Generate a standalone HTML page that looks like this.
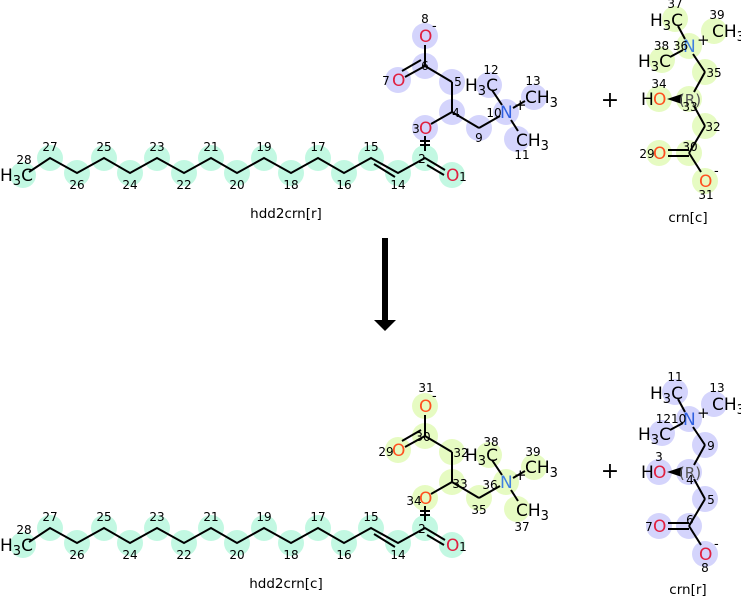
<!DOCTYPE html>
<html><head><meta charset="utf-8"><style>
body{margin:0;background:#fff}
svg{display:block}
text{font-family:"DejaVu Sans","Liberation Sans",sans-serif}
.a{font-size:17px}
.n{font-size:12px;fill:#000}
.b{stroke:#000;stroke-width:2;fill:none}
circle{r:13px}
</style></head><body>
<svg width="741" height="598" viewBox="0 0 741 598" xmlns="http://www.w3.org/2000/svg">
<defs>
<g id="chain">
  <g fill="#c2f8e2">
    <circle cx="23" cy="175" r="13"/><circle cx="50" cy="158" r="13"/><circle cx="77" cy="173" r="13"/><circle cx="104" cy="158" r="13"/><circle cx="130" cy="173" r="13"/><circle cx="157" cy="158" r="13"/><circle cx="184" cy="173" r="13"/><circle cx="211" cy="158" r="13"/><circle cx="237" cy="173" r="13"/><circle cx="264" cy="158" r="13"/><circle cx="291" cy="173" r="13"/><circle cx="318" cy="158" r="13"/><circle cx="344" cy="173" r="13"/><circle cx="371" cy="158" r="13"/><circle cx="398" cy="173" r="13"/><circle cx="425" cy="158" r="13"/><circle cx="452" cy="175" r="13"/>
  </g>
  <polyline class="b" points="29,172 50,158 77,173 104,158 130,173 157,158 184,173 211,158 237,173 264,158 291,173 318,158 344,173 371,158 398,173 425,158 445,170"/>
  <line class="b" x1="374" y1="164" x2="395" y2="177"/>
  <line class="b" x1="427" y1="165" x2="444" y2="175"/>
  <text class="a" x="0" y="181">H<tspan font-size="13" dy="4">3</tspan><tspan dy="-4">C</tspan></text>
  <text class="a" x="446" y="181" fill="#e02040">O</text>
  <g class="n" text-anchor="middle">
    <text x="24" y="164">28</text><text x="50" y="151">27</text><text x="77" y="189">26</text><text x="104" y="151">25</text><text x="130" y="189">24</text><text x="157" y="151">23</text><text x="184" y="189">22</text><text x="211" y="151">21</text><text x="237" y="189">20</text><text x="264" y="151">19</text><text x="291" y="189">18</text><text x="318" y="151">17</text><text x="344" y="189">16</text><text x="371" y="151">15</text><text x="398" y="189">14</text><text x="422" y="163">2</text><text x="463" y="181">1</text>
  </g>
  <line class="b" x1="425" y1="151" x2="425" y2="136"/>
  <line class="b" x1="420" y1="141" x2="430" y2="141"/><line class="b" x1="420" y1="145" x2="430" y2="145"/>
</g>
<g id="side">
  <line class="b" x1="431" y1="124" x2="452" y2="112"/>
  <line class="b" x1="452" y1="112" x2="452" y2="82"/>
  <line class="b" x1="452" y1="82" x2="425" y2="66"/>
  <line class="b" x1="425" y1="66" x2="425" y2="45"/>
  <line class="b" x1="425" y1="66" x2="405" y2="77"/>
  <line class="b" x1="421" y1="60" x2="402" y2="71"/>
  <line class="b" x1="452" y1="112" x2="479" y2="128"/>
  <line class="b" x1="479" y1="128" x2="500" y2="116"/>
  <line class="b" x1="502" y1="105" x2="492" y2="90"/>
  <line class="b" x1="513" y1="108" x2="525" y2="101"/>
  <line class="b" x1="511" y1="120" x2="518" y2="131"/>
</g>
<g id="crn">
  <line class="b" x1="685" y1="39" x2="678" y2="26"/>
  <line class="b" x1="683" y1="50" x2="670" y2="57"/>
  <line class="b" x1="693" y1="54" x2="705" y2="72"/>
  <line class="b" x1="705" y1="72" x2="694" y2="92"/>
  <line class="b" x1="694" y1="106" x2="705" y2="126"/>
  <line class="b" x1="705" y1="126" x2="689" y2="153"/>
  <line class="b" x1="689" y1="153" x2="701" y2="172"/>
  <line class="b" x1="668" y1="150" x2="689" y2="150"/>
  <line class="b" x1="668" y1="156" x2="689" y2="156"/>
  <polygon points="667,99 682,94 682,104" fill="#000"/>
  <text x="690" y="105" fill="#555" text-anchor="middle" style="font-size:15px">(R)</text>
  <text class="a" x="641" y="105">H</text>
</g>
</defs>

<!-- TOP LEFT -->
<g>
  <g fill="#d4d4fc">
    <circle cx="425" cy="36" r="13"/><circle cx="425" cy="66" r="13"/><circle cx="398" cy="80" r="13"/><circle cx="452" cy="82" r="13"/><circle cx="452" cy="112" r="13"/><circle cx="425" cy="128" r="13"/><circle cx="479" cy="128" r="13"/><circle cx="506" cy="112" r="13"/><circle cx="489" cy="85" r="13"/><circle cx="534" cy="97" r="13"/><circle cx="517" cy="139" r="13"/>
  </g>
  <use href="#chain"/>
  <use href="#side"/>
  <g class="a">
    <text x="419" y="42" fill="#e02040">O</text><text x="392" y="86" fill="#e02040">O</text><text x="419" y="134" fill="#e02040">O</text>
    <text x="500" y="118" fill="#3060e0">N</text>
    <text x="465" y="91">H<tspan font-size="13" dy="4">3</tspan><tspan dy="-4">C</tspan></text>
    <text x="525" y="103">CH<tspan font-size="13" dy="4">3</tspan></text>
    <text x="516" y="146">CH<tspan font-size="13" dy="4">3</tspan></text>
    <text x="432" y="30" font-size="13">-</text><text x="514" y="110" font-size="15">+</text>
  </g>
  <g class="n" text-anchor="middle">
    <text x="425" y="23">8</text><text x="425" y="70">6</text><text x="386" y="85">7</text><text x="458" y="86">5</text><text x="456" y="117">4</text><text x="416" y="133">3</text><text x="479" y="142">9</text><text x="494" y="117">10</text><text x="491" y="74">12</text><text x="533" y="85">13</text><text x="522" y="159">11</text>
  </g>
  <text x="286" y="218" font-size="13.5" text-anchor="middle">hdd2crn[r]</text>
</g>

<!-- TOP RIGHT -->
<g>
  <g fill="#e6fbc2">
    <circle cx="675" cy="19" r="13"/><circle cx="714" cy="31" r="13"/><circle cx="689" cy="46" r="13"/><circle cx="662" cy="60" r="13"/><circle cx="705" cy="72" r="13"/><circle cx="689" cy="99" r="13"/><circle cx="659" cy="99" r="13"/><circle cx="705" cy="126" r="13"/><circle cx="689" cy="153" r="13"/><circle cx="659" cy="153" r="13"/><circle cx="705" cy="181" r="13"/>
  </g>
  <use href="#crn"/>
  <g class="a">
    <text x="650" y="26">H<tspan font-size="13" dy="4">3</tspan><tspan dy="-4">C</tspan></text>
    <text x="712" y="37">CH<tspan font-size="13" dy="4">3</tspan></text>
    <text x="638" y="67">H<tspan font-size="13" dy="4">3</tspan><tspan dy="-4">C</tspan></text>
    <text x="683" y="52" fill="#4080e0">N</text><text x="697" y="45" font-size="15">+</text>
    <text x="653" y="105" fill="#ff5020">O</text>
    <text x="653" y="159" fill="#ff5020">O</text>
    <text x="699" y="187" fill="#ff5020">O</text><text x="714" y="175" font-size="13">-</text>
  </g>
  <g class="n" text-anchor="middle">
    <text x="675" y="8">37</text><text x="717" y="19">39</text><text x="671" y="50">38 36</text><text x="659" y="88">34</text><text x="714" y="77">35</text><text x="690" y="111">33</text><text x="713" y="131">32</text><text x="690" y="151">30</text><text x="647" y="158">29</text><text x="706" y="199">31</text>
  </g>
  <text x="688" y="222" font-size="13.5" text-anchor="middle">crn[c]</text>
</g>
<text x="610" y="107" font-size="22" text-anchor="middle">+</text>

<!-- ARROW -->
<rect x="382" y="238" width="6" height="84" fill="#000"/>
<polygon points="374,320 396,320 385,331" fill="#000"/>

<!-- BOTTOM LEFT -->
<g transform="translate(0,370)">
  <g fill="#e6fbc2">
    <circle cx="425" cy="36" r="13"/><circle cx="425" cy="66" r="13"/><circle cx="398" cy="80" r="13"/><circle cx="452" cy="82" r="13"/><circle cx="452" cy="112" r="13"/><circle cx="425" cy="128" r="13"/><circle cx="479" cy="128" r="13"/><circle cx="506" cy="112" r="13"/><circle cx="489" cy="85" r="13"/><circle cx="534" cy="97" r="13"/><circle cx="517" cy="139" r="13"/>
  </g>
  <use href="#chain"/>
  <use href="#side"/>
  <g class="a">
    <text x="419" y="42" fill="#ff5020">O</text><text x="392" y="86" fill="#ff5020">O</text><text x="419" y="134" fill="#ff5020">O</text>
    <text x="500" y="118" fill="#4080e0">N</text>
    <text x="465" y="91">H<tspan font-size="13" dy="4">3</tspan><tspan dy="-4">C</tspan></text>
    <text x="525" y="103">CH<tspan font-size="13" dy="4">3</tspan></text>
    <text x="516" y="146">CH<tspan font-size="13" dy="4">3</tspan></text>
    <text x="432" y="30" font-size="13">-</text><text x="514" y="110" font-size="15">+</text>
  </g>
  <g class="n" text-anchor="middle">
    <text x="426" y="22">31</text><text x="423" y="71">30</text><text x="386" y="86">29</text><text x="461" y="87">32</text><text x="460" y="118">33</text><text x="414" y="135">34</text><text x="479" y="144">35</text><text x="490" y="119">36</text><text x="491" y="76">38</text><text x="533" y="86">39</text><text x="522" y="161">37</text>
  </g>
  <text x="286" y="218" font-size="13.5" text-anchor="middle">hdd2crn[c]</text>
</g>

<!-- BOTTOM RIGHT -->
<g transform="translate(0,373)">
  <g fill="#d4d4fc">
    <circle cx="675" cy="19" r="13"/><circle cx="714" cy="31" r="13"/><circle cx="689" cy="46" r="13"/><circle cx="662" cy="60" r="13"/><circle cx="705" cy="72" r="13"/><circle cx="689" cy="99" r="13"/><circle cx="659" cy="99" r="13"/><circle cx="705" cy="126" r="13"/><circle cx="689" cy="153" r="13"/><circle cx="659" cy="153" r="13"/><circle cx="705" cy="181" r="13"/>
  </g>
  <use href="#crn"/>
  <g class="a">
    <text x="650" y="26">H<tspan font-size="13" dy="4">3</tspan><tspan dy="-4">C</tspan></text>
    <text x="712" y="37">CH<tspan font-size="13" dy="4">3</tspan></text>
    <text x="638" y="67">H<tspan font-size="13" dy="4">3</tspan><tspan dy="-4">C</tspan></text>
    <text x="683" y="52" fill="#3060e0">N</text><text x="697" y="45" font-size="15">+</text>
    <text x="653" y="105" fill="#e02040">O</text>
    <text x="653" y="159" fill="#e02040">O</text>
    <text x="699" y="187" fill="#e02040">O</text><text x="714" y="175" font-size="13">-</text>
  </g>
  <g class="n" text-anchor="middle">
    <text x="675" y="8">11</text><text x="717" y="19">13</text><text x="671" y="50">1210</text><text x="659" y="88">3</text><text x="711" y="77">9</text><text x="690" y="111">4</text><text x="711" y="131">5</text><text x="690" y="151">6</text><text x="649" y="158">7</text><text x="705" y="199">8</text>
  </g>
  <text x="688" y="221" font-size="13.5" text-anchor="middle">crn[r]</text>
</g>
<text x="610" y="478" font-size="22" text-anchor="middle">+</text>
</svg>
</body></html>
